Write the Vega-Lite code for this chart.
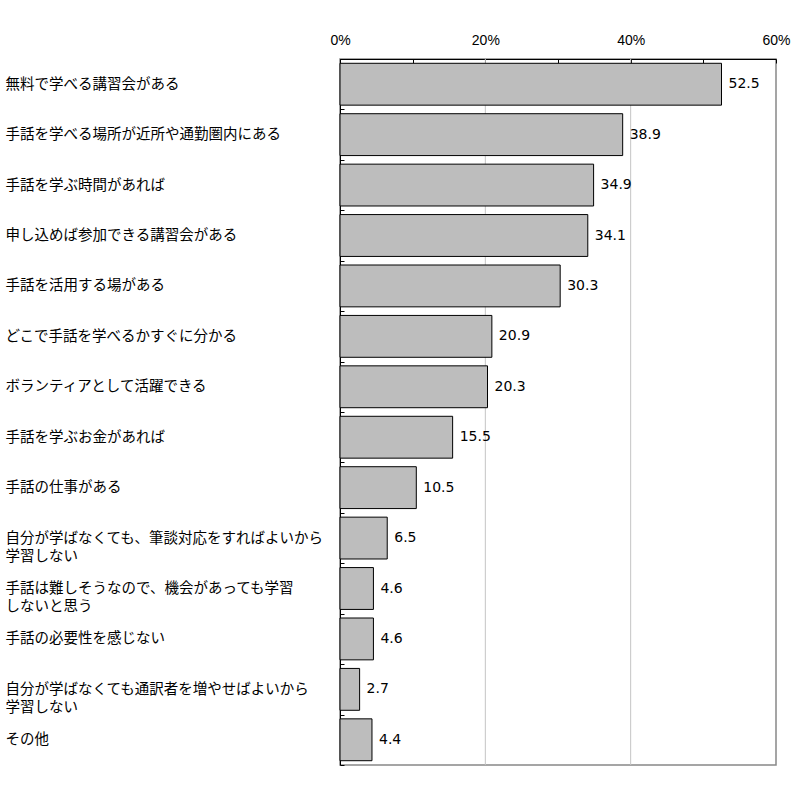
{
  "$schema": "https://vega.github.io/schema/vega-lite/v6.json",
  "autosize": "none",
  "padding": {"left": 340, "top": 59, "right": 24, "bottom": 45},
  "width": 436,
  "height": 706,
  "background": "white",
  "config": {
    "view": {"stroke": "#888888", "strokeWidth": 1.5}
  },
  "datasets": {
    "bars": [
      {"item": "無料で学べる講習会がある", "value": 52.5},
      {"item": "手話を学べる場所が近所や通勤圏内にある", "value": 38.9},
      {"item": "手話を学ぶ時間があれば", "value": 34.9},
      {"item": "申し込めば参加できる講習会がある", "value": 34.1},
      {"item": "手話を活用する場がある", "value": 30.3},
      {"item": "どこで手話を学べるかすぐに分かる", "value": 20.9},
      {"item": "ボランティアとして活躍できる", "value": 20.3},
      {"item": "手話を学ぶお金があれば", "value": 15.5},
      {"item": "手話の仕事がある", "value": 10.5},
      {"item": "自分が学ばなくても、筆談対応をすればよいから\n学習しない", "value": 6.5},
      {"item": "手話は難しそうなので、機会があっても学習\nしないと思う", "value": 4.6},
      {"item": "手話の必要性を感じない", "value": 4.6},
      {"item": "自分が学ばなくても通訳者を増やせばよいから\n学習しない", "value": 2.7},
      {"item": "その他", "value": 4.4}
    ],
    "grid": [{"g": 20}, {"g": 40}]
  },
  "layer": [
    {
      "data": {"name": "grid"},
      "mark": {"type": "rule", "color": "#c4c4c4", "strokeWidth": 1},
      "encoding": {
        "x": {"field": "g", "type": "quantitative", "scale": {"domain": [0, 60]}}
      }
    },
    {
      "data": {"name": "bars"},
      "mark": {"type": "bar", "fill": "#bdbdbd", "stroke": "#000000", "strokeWidth": 1, "height": {"band": 0.83}},
      "encoding": {
        "y": {
          "field": "item", "type": "nominal", "sort": null,
          "scale": {"paddingInner": 0, "paddingOuter": 0},
          "axis": {
            "title": null,
            "orient": "left",
            "domainColor": "#000000",
            "tickColor": "#000000",
            "tickSize": -4,
            "tickBand": "extent",
            "labelAlign": "left",
            "labelBaseline": "middle",
            "labelPadding": 339,
            "labelLimit": 400,
            "labelFont": "Noto Sans CJK JP",
            "labelFontSize": 14.5,
            "labelColor": "#000000",
            "labelLineHeight": 18,
            "labelExpr": "split(datum.label, '\\n')"
          }
        },
        "x": {
          "field": "value", "type": "quantitative",
          "scale": {"domain": [0, 60]},
          "axis": {
            "title": null,
            "orient": "top",
            "values": [0, 10, 20, 30, 40, 50, 60],
            "grid": false,
            "domainColor": "#000000",
            "tickColor": "#000000",
            "tickSize": -4,
            "labelPadding": 16,
            "labelFont": "Liberation Sans",
            "labelFontSize": 14,
            "labelColor": "#000000",
            "labelFlush": false,
            "labelOverlap": false,
            "labelExpr": "datum.value % 20 == 0 ? datum.value + '%' : ''"
          }
        }
      }
    },
    {
      "data": {"name": "bars"},
      "mark": {"type": "text", "align": "left", "baseline": "middle", "dx": 7, "font": "DejaVu Sans", "fontSize": 14, "color": "#000000"},
      "encoding": {
        "y": {"field": "item", "type": "nominal", "sort": null},
        "x": {"field": "value", "type": "quantitative"},
        "text": {"field": "value", "type": "quantitative", "format": ".1f"}
      }
    }
  ]
}
